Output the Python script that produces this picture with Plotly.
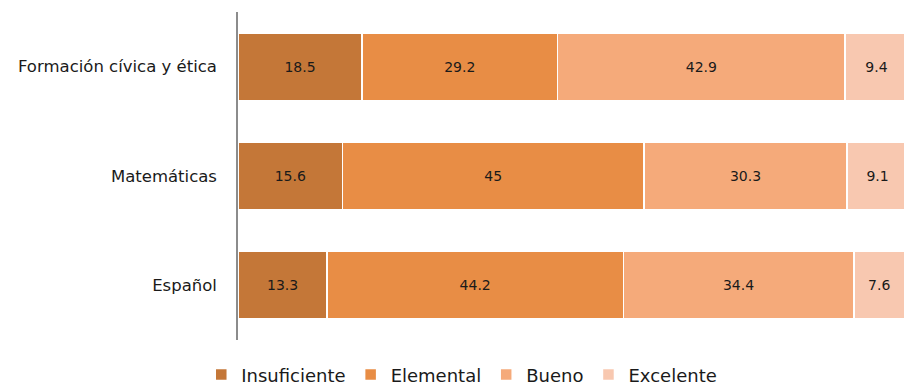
from plotly import graph_objects as go

CATEGORIES = ["Español", "Matemáticas", "Formación cívica y ética"]
INSUFICIENTE = [13.3, 15.6, 18.5]
ELEMENTAL = [44.2, 45, 29.2]
BUENO = [34.4, 30.3, 42.9]
EXCELENTE = [7.6, 9.1, 9.4]

SERIES = [
	("Insuficiente", INSUFICIENTE, "#C47738"),
	("Elemental", ELEMENTAL, "#E88D45"),
	("Bueno", BUENO, "#F5AA7A"),
	("Excelente", EXCELENTE, "#F8C8B0"),
]

FONT = "'DejaVu Sans', sans-serif"


def make_chart() -> go.Figure:
	fig = go.Figure()
	for name, values, color in SERIES:
		fig.add_trace(go.Bar(
			y=CATEGORIES, x=values, name=name, orientation="h",
			marker=dict(color=color, line=dict(color="white", width=1.5)),
			text=[str(v) for v in values], textposition="inside",
			insidetextanchor="middle",
			textfont=dict(color="#1a1a1a", size=14, family=FONT),
			width=0.62,
		))

	fig.update_layout(
		barmode="stack",
		width=904, height=387,
		margin=dict(l=238, r=0, t=12, b=47, autoexpand=False),
		plot_bgcolor="white", paper_bgcolor="white",
		font=dict(family=FONT, color="#1a1a1a"),
		xaxis=dict(range=[0, 99.4], visible=False, fixedrange=True),
		yaxis=dict(
			showline=True, linecolor="#8c8c8c", linewidth=1.5,
			ticks="", tickfont=dict(size=16.5, family=FONT),
			ticklabelstandoff=16, showgrid=False, automargin=False,
		),
		legend=dict(
			orientation="h", x=0.336, xanchor="center", y=-0.05, yanchor="top",
			font=dict(size=18, family=FONT), traceorder="normal",
			itemwidth=30,
		),
		uniformtext=dict(mode="show", minsize=12),
	)
	return fig


if __name__ == "__main__":
	fig = make_chart()
	# drop the default body margin and scrollbars so the figure fills the window
	fig.write_html(
		"out.html",
		config={"displayModeBar": False},
		post_script=(
			"document.body.style.margin='0';"
			"document.body.style.overflow='hidden';"
			"document.documentElement.style.overflow='hidden';"
		),
	)
